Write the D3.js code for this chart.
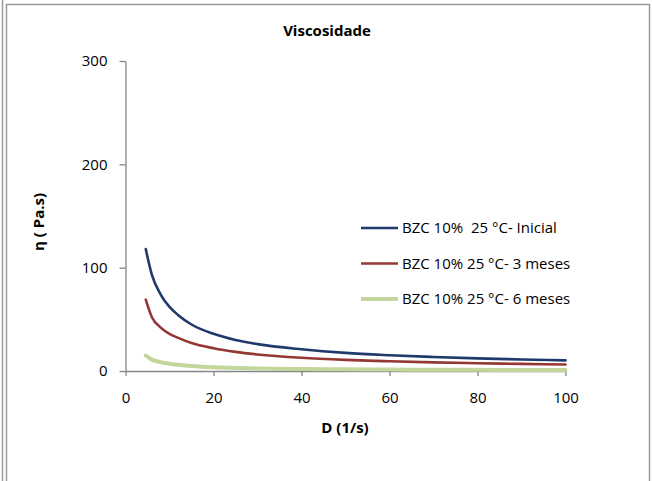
<!DOCTYPE html>
<html>
<head>
<meta charset="utf-8">
<script src="https://cdn.jsdelivr.net/npm/d3@7"></script>
<style>
  html, body { margin: 0; padding: 0; background: #fff; }
  svg { display: block; }
</style>
</head>
<body>
<svg id="chart" width="652" height="481"></svg>
<script>
// ---- data ----
const shearRate = [4.6, 6, 8, 10, 12, 15, 20, 25, 30, 40, 50, 60, 70, 80, 90, 100];
const etaInicial = [118, 93, 74, 62, 54, 45, 36, 30, 26, 21, 17.5, 15.3, 13.6, 12.2, 11.2, 10.3];
const eta3Meses = [69, 52, 42, 36, 32, 27, 22, 18.5, 16, 12.8, 10.8, 9.4, 8.3, 7.5, 6.9, 6.3];
const eta6Meses = [15, 11, 8.5, 7, 6, 4.8, 3.6, 3, 2.5, 1.9, 1.6, 1.4, 1.2, 1.1, 1.0, 0.9];
const seriesNames = ["BZC 10%  25 °C- Inicial", "BZC 10% 25 °C- 3 meses", "BZC 10% 25 °C- 6 meses"];
const xTicks = [0, 20, 40, 60, 80, 100];
const yTicks = [0, 100, 200, 300];
const chartTitle = "Viscosidade";
const xTitle = "D (1/s)";
const yTitle = "η ( Pa.s)";

// ---- styles ----
const colors = ["#1f3a6b", "#953735", "#c3d69b"];
const widths = [2.6, 2.6, 4];
const font = "'Open Sans', sans-serif";
const axisColor = "#868686";

const svg = d3.select("#chart");

// frame borders
svg.append("line").attr("x1", 2.5).attr("x2", 2.5).attr("y1", 0).attr("y2", 481)
  .attr("stroke", "#9a9a9a").attr("stroke-width", 1.5);
svg.append("path").attr("d", "M6.5,481 V4.5 H649.5 V481")
  .attr("fill", "none").attr("stroke", "#9a9a9a").attr("stroke-width", 1.5);

const x = d3.scaleLinear().domain([0, 100]).range([125.5, 565.5]);
const y = d3.scaleLinear().domain([0, 300]).range([371, 61]);

// axes
const gx = svg.append("g").attr("transform", `translate(0,${y(0)})`)
  .call(d3.axisBottom(x).tickValues(xTicks).tickSize(5).tickPadding(16).tickSizeOuter(0));
const gy = svg.append("g").attr("transform", `translate(${x(0)},0)`)
  .call(d3.axisLeft(y).tickValues(yTicks).tickSize(6).tickPadding(12).tickSizeOuter(0));
[gx, gy].forEach(g => {
  g.select(".domain").attr("stroke", axisColor).attr("stroke-width", 1.3);
  g.selectAll(".tick line").attr("stroke", axisColor).attr("stroke-width", 1.3);
  g.selectAll(".tick text").attr("fill", "#000").style("font-family", font).style("font-size", "15px");
});

// series
const allSeries = [etaInicial, eta3Meses, eta6Meses];
const line = d3.line().x(d => x(d[0])).y(d => y(d[1])).curve(d3.curveMonotoneX);
allSeries.forEach((vals, i) => {
  const pts = shearRate.map((s, k) => [s, vals[k]]);
  svg.append("path").datum(pts).attr("d", line)
    .attr("fill", "none").attr("stroke", colors[i]).attr("stroke-width", widths[i])
    .attr("stroke-linecap", "round").attr("stroke-linejoin", "round");
});

// legend
const legendRows = [228, 263.5, 299];
seriesNames.forEach((name, i) => {
  svg.append("line").attr("x1", 361).attr("x2", 398)
    .attr("y1", legendRows[i]).attr("y2", legendRows[i])
    .attr("stroke", colors[i]).attr("stroke-width", widths[i]);
  svg.append("text").attr("x", 402).attr("y", legendRows[i]).attr("dy", "0.35em")
    .style("font-family", font).style("font-size", "15px").style("white-space", "pre")
    .attr("xml:space", "preserve")
    .text(name);
});

// titles
svg.append("text").attr("x", 327).attr("y", 36).attr("text-anchor", "middle")
  .style("font-family", font).style("font-size", "15px").style("font-weight", "bold")
  .text(chartTitle);
svg.append("text").attr("x", 345).attr("y", 433).attr("text-anchor", "middle")
  .style("font-family", font).style("font-size", "15px").style("font-weight", "bold")
  .text(xTitle);
svg.append("text").attr("transform", "translate(44,222) rotate(-90)").attr("text-anchor", "middle")
  .style("font-family", font).style("font-size", "15px").style("font-weight", "bold")
  .style("white-space", "pre").attr("xml:space", "preserve")
  .text(yTitle);
</script>
</body>
</html>
